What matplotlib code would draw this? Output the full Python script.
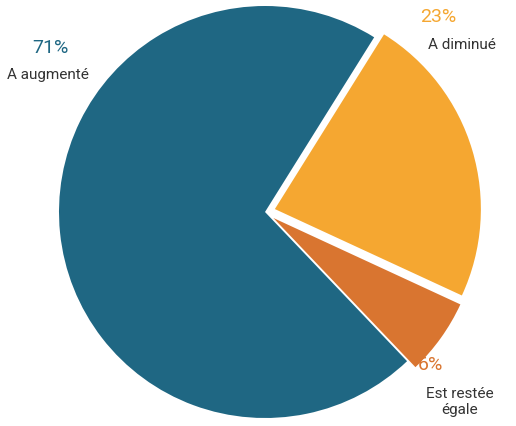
import matplotlib
matplotlib.use("Agg")
import matplotlib.pyplot as plt

labels = ["A diminué", "Est restée\négale", "A augmenté"]
values = [23, 6, 71]
colors = ["#F5A731", "#D97530", "#1F6783"]
explode = [0.05, 0.05, 0]

W, H = 516, 426
fig = plt.figure(figsize=(W/100, H/100), dpi=100)
cx, cy, r = 265, 212, 206
ax = fig.add_axes([(cx-r)/W, (H-cy-r)/H, 2*r/W, 2*r/H])
ax.pie(values, colors=colors, explode=explode, startangle=58, counterclock=False,
       radius=1, wedgeprops=dict(linewidth=0), frame=False)
ax.set_xlim(-1, 1); ax.set_ylim(-1, 1)
ax.set_aspect("auto")
ax.axis("off")

def t(x, y, s, c, size, ha="center"):
    fig.text(x/W, 1-y/H, s, color=c, fontsize=size, ha=ha, va="center", family="Roboto")

t(50, 48, f"{values[2]}%", colors[2], 14)
t(48, 75, labels[2], "#333333", 11)
t(438, 17, f"{values[0]}%", colors[0], 14)
t(462, 45, labels[0], "#333333", 11)
t(430, 365, f"{values[1]}%", colors[1], 14)
fig.text(460/W, 1-402/H, labels[1], color="#333333", fontsize=11, ha="center",
         va="center", family="Roboto", linespacing=1.1)
fig.savefig("out.png", dpi=100)
